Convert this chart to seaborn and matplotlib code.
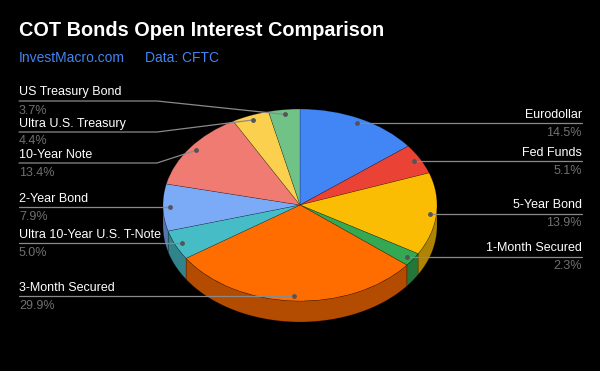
import numpy as np
import matplotlib
matplotlib.use("Agg")
import matplotlib.pyplot as plt
import matplotlib.colors as mcolors
import seaborn as sns

# slices, clockwise from 12 o'clock
labels = ["Eurodollar", "Fed Funds", "5-Year Bond", "1-Month Secured", "3-Month Secured",
          "Ultra 10-Year U.S. T-Note", "2-Year Bond", "10-Year Note",
          "Ultra U.S. Treasury", "US Treasury Bond"]
shares = [14.5, 5.1, 13.9, 2.3, 29.9, 5.0, 7.9, 13.4, 4.4, 3.7]
pct_text = ["14.5%", "5.1%", "13.9%", "2.3%", "29.9%", "5.0%", "7.9%", "13.4%", "4.4%", "3.7%"]
colors = ["#4285F4", "#EA4335", "#FBBC04", "#34A853", "#FF6D01",
          "#46BDC6", "#7BAAF7", "#F07B72", "#FCD04F", "#71C287"]

# layout (pixels)
W, H = 600, 371
CX, CY, RX, RY, DEPTH = 300, 205, 137, 96, 21
# leader height for labels pushed apart on the left (None = dot height)
label_y = [None, None, None, None, None, None, None, 163, 132, 101]

sns.set_theme(style="dark", rc={"axes.facecolor": "black", "figure.facecolor": "black"})
plt.rcParams['font.family'] = ['Liberation Sans', 'DejaVu Sans']


def darken(c, f=0.7):
    r, g, b = mcolors.to_rgb(c)
    return (r * f, g * f, b * f)


fig = plt.figure(figsize=(6, 3.71), dpi=100, facecolor='black')

# pie axes: unit circle squashed into an ellipse
ax = fig.add_axes([0, 0, 1, 1])
ax.pie(shares, colors=colors, startangle=90, counterclock=False, radius=1,
       center=(0, 0), frame=True,
       wedgeprops=dict(linewidth=0.4, edgecolor=(0, 0, 0, 0.35)))
ax.set_aspect('auto')
ax.set_xlim(-CX / RX, (W - CX) / RX)
ax.set_ylim(-(H - CY) / RY, CY / RY)
ax.axis('off')

# front side of the "3D" pie
d = DEPTH / RY
tot = sum(shares)
start = 90.0
mids = []
for val, col in zip(shares, colors):
    end = start - 360 * val / tot
    mids.append((start + end) / 2)
    lo, hi = max(end, -180), min(start, 0)
    if hi > lo:
        t = np.radians(np.linspace(lo, hi, 80))
        xs = np.concatenate([np.cos(t), np.cos(t[::-1])])
        ys = np.concatenate([np.sin(t), np.sin(t[::-1]) - d])
        ax.fill(xs, ys, color=darken(col), lw=0.4, ec=(0, 0, 0, 0.35), zorder=0.5)
    start = end

# overlay axes in pixel coords for text and leaders
ov = fig.add_axes([0, 0, 1, 1])
ov.set_xlim(0, W)
ov.set_ylim(H, 0)
ov.axis('off')
ov.patch.set_alpha(0)

ov.text(19, 31, "COT Bonds Open Interest Comparison", color='white',
        fontsize=14.3, fontweight='bold', va='center', ha='left')
ov.text(19, 58, "InvestMacro.com", color='#4285F4', fontsize=10, va='center')
ov.text(145, 58, "Data: CFTC", color='#4285F4', fontsize=10, va='center')

line_col = '#8a8a8a'
for name, pct, mid, ly in zip(labels, pct_text, mids, label_y):
    a = np.radians(mid)
    dx = CX + 0.95 * RX * np.cos(a)
    dy = CY - 0.95 * RY * np.sin(a)
    if ly is None:
        ly = dy
    if np.cos(a) >= 0:
        xe = 582
        ov.plot([dx, xe], [ly, ly], color=line_col, lw=0.9)
        ha, tx = 'right', xe
    else:
        xs = 19
        if abs(ly - dy) > 0.5:
            ov.plot([xs, 157, dx], [ly, ly, dy], color=line_col, lw=0.9)
        else:
            ov.plot([xs, dx], [ly, ly], color=line_col, lw=0.9)
        ha, tx = 'left', xs
    ov.plot(dx, dy, 'o', color='#555555', ms=3.5, mec='none')
    ov.text(tx, ly - 2.5, name, color='white', fontsize=9, ha=ha, va='bottom')
    ov.text(tx, ly + 3.5, pct, color='#707070', fontsize=9, ha=ha, va='top')

fig.savefig("out.png", dpi=100, facecolor='black')
